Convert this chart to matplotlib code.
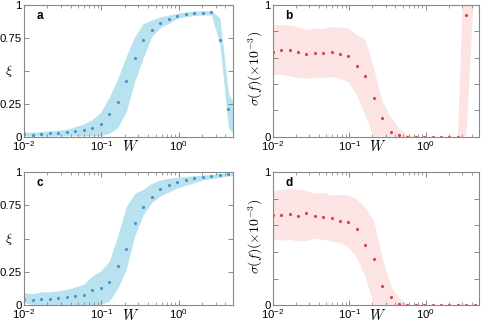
import numpy as np
import matplotlib
matplotlib.use("Agg")
import matplotlib.pyplot as plt

plt.rcParams['font.family'] = ['Liberation Sans', 'DejaVu Sans']
plt.rcParams['mathtext.fontset'] = 'custom'
plt.rcParams['mathtext.rm'] = 'Liberation Sans'
plt.rcParams['mathtext.it'] = 'Liberation Sans:italic'
plt.rcParams['mathtext.bf'] = 'Liberation Sans:bold'

# W values (log spaced sample points)
W = [0.0100, 0.0129, 0.0166, 0.0214, 0.0275, 0.0355, 0.0457, 0.0589, 0.0759,
     0.0977, 0.126, 0.162, 0.209, 0.269, 0.347, 0.447, 0.575, 0.741, 0.955,
     1.23, 1.58, 2.04, 2.63, 3.39, 4.37, 5.62]

# panel a: xi
xi_a = [0.018, 0.015, 0.018, 0.025, 0.028, 0.035, 0.043, 0.053, 0.068, 0.10,
        0.17, 0.26, 0.425, 0.595, 0.737, 0.81, 0.86, 0.894, 0.916, 0.93,
        0.937, 0.942, 0.944, 0.734, 0.208, 0.10]
xi_a_hi = [0.035, 0.035, 0.038, 0.043, 0.05, 0.056, 0.076, 0.096, 0.13, 0.185,
           0.30, 0.44, 0.61, 0.76, 0.86, 0.886, 0.91, 0.924, 0.937, 0.947,
           0.954, 0.957, 0.957, 0.90, 0.33, 0.20]
xi_a_lo = [0.005, 0.005, 0.004, 0.005, 0.006, 0.007, 0.008, 0.008, 0.008, 0.008,
           0.025, 0.068, 0.19, 0.418, 0.60, 0.76, 0.83, 0.86, 0.90, 0.91,
           0.92, 0.924, 0.924, 0.70, 0.063, 0.0]

# panel b: sigma(f)
sig_b = [0.641, 0.661, 0.658, 0.641, 0.628, 0.638, 0.636, 0.643, 0.628, 0.616,
         0.535, 0.462, 0.296, 0.143, 0.038, 0.01, 0, 0, 0, 0,
         0, 0, 0, 0.922, 3.0, 1.6]
sig_b_hi = [0.842, 0.849, 0.844, 0.834, 0.809, 0.822, 0.817, 0.834, 0.829, 0.822,
            0.771, 0.741, 0.528, 0.276, 0.151, 0.063, 0.013, 0, 0, 0,
            0, 0, 0, 1.8, 6.0, 2.6]
sig_b_lo = [0.465, 0.472, 0.457, 0.445, 0.44, 0.445, 0.447, 0.452, 0.44, 0.415,
            0.314, 0.163, 0, 0, 0, 0, 0, 0, 0, 0,
            0, 0, 0, 0, 1.2, 0.7]

# panel c: xi
xi_c = [0.05, 0.04, 0.05, 0.05, 0.055, 0.0625, 0.0675, 0.075, 0.1125, 0.13,
        0.1775, 0.2925, 0.4225, 0.62, 0.735, 0.815, 0.87, 0.90, 0.925, 0.9375,
        0.9525, 0.965, 0.9725, 0.98, 0.985, 0.988]
xi_c_hi = [0.095, 0.0875, 0.10, 0.1025, 0.1075, 0.12, 0.1375, 0.1575, 0.22, 0.2575,
           0.33, 0.52, 0.74, 0.84, 0.87, 0.915, 0.94, 0.9525, 0.96, 0.9675,
           0.9725, 0.9775, 0.98, 0.99, 0.99, 0.992]
xi_c_lo = [0.02, 0.005, 0.005, 0.005, 0.005, 0.005, 0.005, 0.005, 0.005, 0.0075,
           0.0325, 0.125, 0.27, 0.52, 0.68, 0.77, 0.82, 0.85, 0.88, 0.90,
           0.92, 0.94, 0.95, 0.96, 0.97, 0.975]

# panel d: sigma(f)
sig_d = [0.675, 0.675, 0.6825, 0.67, 0.69, 0.6675, 0.6625, 0.655, 0.63, 0.6225,
         0.57, 0.455, 0.345, 0.1425, 0.06, 0.0125, 0, 0, 0, 0,
         0, 0, 0, 0, 0, 0]
sig_d_hi = [0.8575, 0.87, 0.8775, 0.87, 0.8625, 0.84, 0.8475, 0.8275, 0.8325, 0.8275,
            0.795, 0.7325, 0.6325, 0.3575, 0.145, 0.0575, 0.0075, 0, 0, 0,
            0, 0, 0, 0, 0, 0]
sig_d_lo = [0.495, 0.4875, 0.495, 0.4825, 0.4875, 0.5025, 0.495, 0.4825, 0.47, 0.4325,
            0.3575, 0.2075, 0, 0, 0, 0, 0, 0, 0, 0,
            0, 0, 0, 0, 0, 0]

blue_band = '#b8e2ef'
blue_dot = '#4f93c9'
red_band = '#fde4e4'
red_dot = '#d4474c'

fig = plt.figure(figsize=(4.82, 3.22), dpi=100)
axa = fig.add_axes([0.0498, 0.5755, 0.4336, 0.409])
axb = fig.add_axes([0.5658, 0.5755, 0.4286, 0.409])
axc = fig.add_axes([0.0498, 0.0519, 0.4336, 0.414])
axd = fig.add_axes([0.5658, 0.0519, 0.4286, 0.414])


def panel(ax, y, lo, hi, band, dot, letter, kind):
    ax.fill_between(W, lo, hi, color=band, lw=0)
    ax.plot(W, y, 'o', color=dot, ms=2.3, mew=0)
    ax.set_xscale('log')
    ax.set_xlim(0.01, 5)
    ax.set_ylim(0, 1)
    ax.set_xticks([0.01, 0.1, 1])
    ax.set_xticklabels(['$10^{-2}$', '$10^{-1}$', '$10^{0}$'])
    ax.tick_params(which='both', direction='in', top=True, right=True,
                   labelsize=8.2, color='#777777', pad=1.5)
    ax.tick_params(which='major', length=3.5, width=0.6)
    ax.tick_params(which='minor', length=2, width=0.5)
    for s in ax.spines.values():
        s.set_color('#888888')
        s.set_linewidth(0.8)
    ax.text(0.51, -0.018, '$W$', transform=ax.transAxes, ha='center', va='top',
            fontsize=10.5, math_fontfamily='cm')
    ax.text(0.062, 0.915, letter, transform=ax.transAxes, ha='left', va='center',
            fontsize=8.5, fontweight='bold')
    if kind == 'xi':
        ax.set_yticks([0, 0.25, 0.5, 0.75, 1])
        ax.set_yticklabels(['0', '0.25', '', '0.75', '1'])
        ax.text(-0.072, 0.5, r'$\xi$', transform=ax.transAxes, ha='center',
                va='center', fontsize=10, math_fontfamily='cm')
    else:
        ax.set_yticks([0, 0.2, 0.4, 0.6, 0.8, 1])
        ax.set_yticklabels(['0', '', '', '', '', '1'])
        ax.text(-0.08, 0.52, r'$\sigma(f)(\times10^{-3})$', transform=ax.transAxes,
                ha='center', va='center', rotation=90, fontsize=10,
                math_fontfamily='cm')


panel(axa, xi_a, xi_a_lo, xi_a_hi, blue_band, blue_dot, 'a', 'xi')
panel(axb, sig_b, sig_b_lo, sig_b_hi, red_band, red_dot, 'b', 'sig')
panel(axc, xi_c, xi_c_lo, xi_c_hi, blue_band, blue_dot, 'c', 'xi')
panel(axd, sig_d, sig_d_lo, sig_d_hi, red_band, red_dot, 'd', 'sig')

fig.savefig('out.png', dpi=100)
